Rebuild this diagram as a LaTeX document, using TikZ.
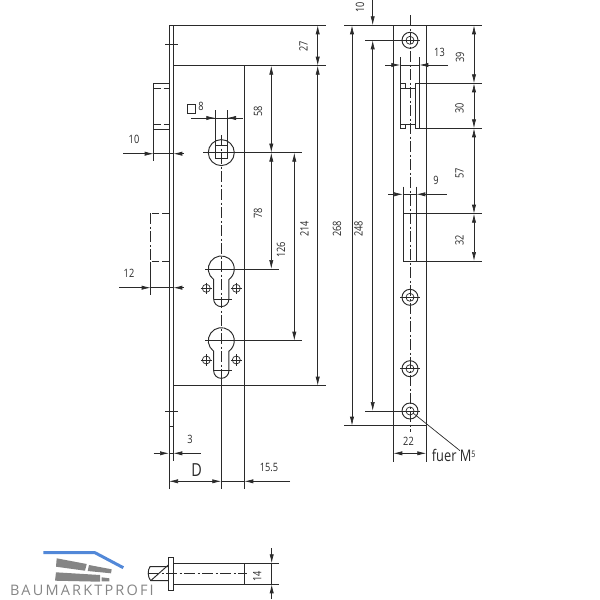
\documentclass[tikz,border=0pt]{standalone}
\usepackage{fontspec}
\setmainfont{Open Sans}
\usetikzlibrary{arrows.meta}
\definecolor{inkline}{HTML}{2A2A2A}
\definecolor{logoblue}{HTML}{5288D8}
\definecolor{logogray}{HTML}{858585}
\tikzset{
  part/.style={draw=inkline, line width=0.95pt},
  thin part/.style={draw=inkline, line width=0.7pt},
  axis/.style={draw=inkline, line width=0.75pt, dash pattern=on 11pt off 2.5pt on 2pt off 2.5pt},
  hidden/.style={draw=inkline, line width=0.85pt, dash pattern=on 7pt off 3pt},
  dim/.style={draw=inkline, line width=0.7pt},
  dimboth/.style={dim, {Latex[length=9pt,width=4.2pt]}-{Latex[length=9pt,width=4.2pt]}},
  dimend/.style={dim, -{Latex[length=9pt,width=4.2pt]}},
  dimtext/.style={text=inkline, font=\fontsize{11.5}{11.5}\selectfont\addfontfeature{FakeStretch=0.8}, inner sep=0pt},
  dimup/.style={dimtext, rotate=90}
}
\begin{document}
\begin{tikzpicture}[x=1pt,y=-1pt]
\useasboundingbox (0,0) rectangle (600,600);

% lock case
\draw[part] (169,489) -- (169,25.3) -- (326,25.3);
\draw[part] (173.3,25.3) -- (173.3,461);
\draw[part] (173.3,65.7) -- (326,65.7);
\draw[part] (173.3,385.7) -- (326,385.7);
\draw[part] (244.3,65.7) -- (244.3,489);
\draw[part] (221.3,378) -- (221.3,489);
\draw[part] (165,44.7) -- (177.5,44.7);
\draw[part] (165,411) -- (177.5,411);
\draw[part] (169,426) -- (173.3,426);

% latch and dead bolt
\draw[part] (169,83.3) -- (153.7,83.3) -- (153.7,161.3);
\draw[part] (153.7,129) -- (169,129);
\draw[hidden] (153.7,88.3) -- (169,88.3);
\draw[hidden] (153.7,124) -- (169,124);
\draw[hidden] (169,213.3) -- (150.7,213.3);
\draw[axis] (150.7,213.3) -- (150.7,261.7);
\draw[part] (150.7,261.7) -- (150.7,295);
\draw[hidden] (169,261.7) -- (150.7,261.7);

% spindle and cylinders
\draw[axis] (221.3,135) -- (221.3,378);
\draw[part] (221.3,152.6) circle (13);
\draw[part] (215.3,110.3) -- (215.3,158.7) -- (227,158.7) -- (227,110.3);
\draw[part] (215.3,145.7) -- (227,145.7);
\draw[part] (203,152.6) -- (301.7,152.6);
\foreach \cy/\cx in {269/279,340.7/301.7}{
  \draw[part] (213.65,\cy+10.5) arc[start angle=126,end angle=414,radius=13] -- (228.95,\cy+30) arc[start angle=0,end angle=180,radius=7.65] -- cycle;
  \draw[part] (205,\cy) -- (\cx,\cy);
  \draw[part] (213.7,\cy+30) -- (232,\cy+30);
  \draw[thin part] (206.3,\cy+19.3) circle (4);
  \draw[thin part] (236.3,\cy+19.3) circle (4);
  \draw[thin part] (200.5,\cy+19.3) -- (212,\cy+19.3);
  \draw[thin part] (206.3,\cy+13.5) -- (206.3,\cy+25);
  \draw[thin part] (230.5,\cy+19.3) -- (242,\cy+19.3);
  \draw[thin part] (236.3,\cy+13.5) -- (236.3,\cy+25);
}

% square
\draw[thin part] (187.3,104.3) rectangle (195.3,113);
\node[dimtext] (labelsquare) at (201,106) {8};
\draw[dim] (191,118) -- (242.7,118);
\draw[dimend] (200,118) -- (215.3,118);
\draw[dimend] (242.7,118) -- (227,118);

% dimensions, case
\draw[dimend] (123,153.7) -- (153.7,153.7);
\draw[dimend] (184,153.7) -- (173.3,153.7);
\draw[dim] (153.7,153.7) -- (173.3,153.7);
\node[dimtext] (labelten) at (134,139) {10};
\draw[dimend] (119,287.7) -- (150.7,287.7);
\draw[dimend] (184,287.7) -- (173.3,287.7);
\draw[dim] (150.7,287.7) -- (173.3,287.7);
\node[dimtext] (labeltwelve) at (129,273) {12};
\draw[dimboth] (317.7,25.3) -- (317.7,65.7);
\draw[dimboth] (317.7,65.7) -- (317.7,385.7);
\draw[dimboth] (271.3,65.7) -- (271.3,152.6);
\draw[dimboth] (271.3,152.6) -- (271.3,269);
\draw[dimboth] (294.3,152.6) -- (294.3,340.7);
\node[dimup] (labeltwentyseven) at (303.5,46) {27};
\node[dimup] (labelfiftyeight) at (258,111) {58};
\node[dimup] (labelseventyeight) at (258,213) {78};
\node[dimup] (labelonetwentysix) at (281,250) {126};
\node[dimup] (labeltwofourteen) at (304.5,229) {214};
\node[dimup] (labeltwosixtyeight) at (337,229) {268};
\draw[dimend] (153.7,453.3) -- (169,453.3);
\draw[dimend] (200.7,453.3) -- (173.3,453.3);
\draw[dim] (169,453.3) -- (173.3,453.3);
\node[dimtext] (labelthree) at (190,439) {3};
\node[text=inkline, font=\fontsize{18}{18}\selectfont\addfontfeature{FakeStretch=0.8}, inner sep=0pt] (labeld) at (196.7,470.5) {D};
\node[dimtext] (labelfifteen) at (269,467) {15.5};
\draw[dimboth] (169,481.3) -- (221.3,481.3);
\draw[dimend] (290,481.3) -- (244.3,481.3);
\draw[dim] (221.3,481.3) -- (244.3,481.3);

% strike plate
\draw[part] (393.3,461.7) -- (393.3,25.3);
\draw[part] (426.3,461.7) -- (426.3,25.3);
\draw[part] (344,25.3) -- (481.7,25.3);
\draw[part] (344,425.7) -- (426.3,425.7);
\draw[axis] (410,15) -- (410,431.7);
\foreach \hy in {40.3,297.3,368.7,411}{
  \draw[part] (410,\hy) circle (8);
  \draw[thin part] (410,\hy) circle (4);
  \draw[thin part] (400,\hy) -- (420,\hy);
}
% upper opening
\draw[part] (400.3,57.3) -- (400.3,128.3) -- (405,128.3) -- (405,124);
\draw[part] (400.3,124) -- (415,124);
\draw[part] (400.3,83.3) -- (405,83.3) -- (405,88);
\draw[part] (400.3,88) -- (415,88);
\draw[part] (419.3,57.3) -- (419.3,128.3);
\draw[part] (415,128.3) -- (415,83.3) -- (481.7,83.3);
\draw[part] (415,128.3) -- (481.7,128.3);
% lower opening
\draw[part] (403,186.7) -- (403,261) -- (481.7,261);
\draw[part] (416.3,186.7) -- (416.3,261);
\draw[part] (403,213.7) -- (481.7,213.7);

% dimensions, strike plate
\draw[dimend] (385,65) -- (400.3,65);
\draw[dimend] (448,65) -- (419.3,65);
\draw[dim] (400.3,65) -- (419.3,65);
\node[dimtext] (labelthirteen) at (439.5,52) {13};
\draw[dimend] (388,194.3) -- (403,194.3);
\draw[dimend] (446.7,194.3) -- (416.3,194.3);
\draw[dim] (403,194.3) -- (416.3,194.3);
\node[dimtext] (labelnine) at (436,180) {9};
\draw[dimboth] (474,25.3) -- (474,83.3);
\draw[dimboth] (474,83.3) -- (474,128.3);
\draw[dimboth] (474,128.3) -- (474,213.7);
\draw[dimboth] (474,213.7) -- (474,261);
\node[dimup] (labelthirtynine) at (460,57) {39};
\node[dimup] (labelthirty) at (459.5,108) {30};
\node[dimup] (labelfiftyseven) at (459.5,173) {57};
\node[dimup] (labelthirtytwo) at (459.5,240) {32};
\draw[dimboth] (352,25.3) -- (352,425.7);
\draw[dimboth] (372.7,40.3) -- (372.7,411);
\draw[dim] (365,40.3) -- (400,40.3);
\draw[dim] (365,411) -- (400,411);
\draw[dimend] (372.7,0) -- (372.7,25.3);
\node[dimup] (labeltenup) at (360,7) {10};
\node[dimup] (labeltwofortyeight) at (358.5,229) {248};
\draw[dimboth] (393.3,453.3) -- (426.3,453.3);
\node[dimtext] (labeltwentytwo) at (408.5,441) {22};
\draw[dim] (413,413) -- (460,450.7);
\node[text=inkline, font=\fontsize{16}{16}\selectfont\addfontfeature{FakeStretch=0.8}, inner sep=0pt, anchor=base west] (labelfuer) at (431.7,461) {fuer M\raisebox{4pt}{\fontsize{9}{9}\selectfont 5}};

% bolt
\draw[part] (168.7,557) rectangle (173.7,590.7);
\draw[part] (173.7,563.3) -- (279.3,563.3);
\draw[part] (173.7,584.3) -- (279.3,584.3);
\draw[part] (244,563.3) -- (244,584.3);
\draw[axis] (148,573.7) -- (246.7,573.7);
\draw[part] (168.7,566.7) -- (150,566.7) .. controls (147.5,570) and (147.5,577) .. (150.7,580.7) -- (168.7,580.7);
\draw[part] (150.7,580.7) -- (168.3,565);
\draw[dimend] (271.7,548) -- (271.7,563.3);
\draw[dimend] (271.7,599) -- (271.7,584.3);
\draw[dim] (271.7,563.3) -- (271.7,584.3);
\node[dimup] (labelfourteen) at (257.3,576) {14};

% logo
\draw[logoblue, line width=3pt, line join=round] (43.3,552.7) -- (95,552.7) -- (123.3,567.7);
\fill[logogray] (56.7,558.3) -- (86.7,564) -- (85,570.7) -- (56,566.7) -- cycle;
\fill[logogray] (89,565) -- (111.7,569.3) -- (111,573.3) -- (87.7,571) -- cycle;
\fill[logogray] (56,572.3) -- (100,575) -- (100,581.7) -- (55,580.7) -- cycle;
\fill[logogray] (101.7,577.3) -- (109.3,578.3) -- (109.3,581.3) -- (101.7,581.3) -- cycle;
\node[text=logogray, font=\fontsize{14.5}{14.5}\selectfont\addfontfeature{LetterSpace=15}, inner sep=0pt, anchor=base west] (logotext) at (10,595.5) {BAUMARKTPROFI};
\end{tikzpicture}
\end{document}
